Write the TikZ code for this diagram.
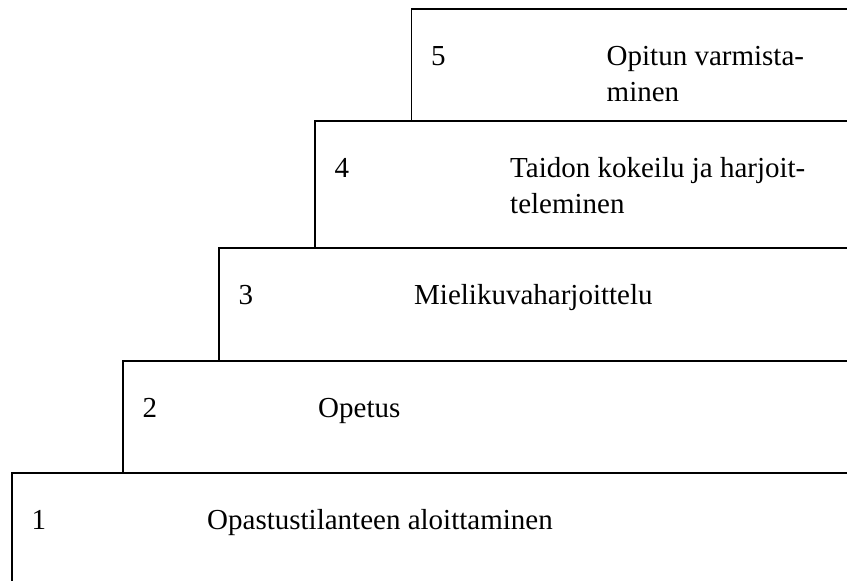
\documentclass[tikz,border=0pt]{standalone}
\usepackage{fontspec}
\setmainfont{Liberation Serif}
\begin{document}
\begin{tikzpicture}[x=1pt,y=-1pt,
  stepbox/.style={draw, line width=1.9pt, anchor=north west, inner sep=0pt,
    outer sep=0pt, minimum width=#1},
  num/.style={anchor=base west, inner sep=0pt},
  label/.style={anchor=base west, inner sep=0pt, align=left},
  every node/.append style={font=\fontsize{29}{36.5}\selectfont}]
\useasboundingbox (0,0) rectangle (847,581);
\clip (0,0) rectangle (847,581);
% the steps, lowest first; each reaches past the right and bottom edges
\node[stepbox=900pt, minimum height=200pt]   (b1) at (12,472.7)  {};
\node[stepbox=800pt, minimum height=112pt]   (b2) at (123,360.7) {};
\node[stepbox=700pt, minimum height=112.4pt] (b3) at (219,248.3) {};
\node[stepbox=600pt, minimum height=127.6pt] (b4) at (315,120.7) {};
\node[stepbox=500pt, minimum height=111.7pt] (b5) at (411.5,9)   {};
% step numbers
\node[num] (n1) at ([shift={(19.5,56.3)}]b1.north west) {1};
\node[num] (n2) at ([shift={(19.5,56.3)}]b2.north west) {2};
\node[num] (n3) at ([shift={(19.5,56.3)}]b3.north west) {3};
\node[num] (n4) at ([shift={(19.5,56.3)}]b4.north west) {4};
\node[num] (n5) at ([shift={(19.5,56.3)}]b5.north west) {5};
% step names (two-line names sit on the baseline of their last line)
\node[label] (t1) at ([shift={(195,56.3)}]b1.north west) {Opastustilanteen aloittaminen};
\node[label] (t2) at ([shift={(195,56.3)}]b2.north west) {Opetus};
\node[label] (t3) at ([shift={(195,56.3)}]b3.north west) {Mielikuvaharjoittelu};
\node[label] (t4) at ([shift={(195,92.8)}]b4.north west) {Taidon kokeilu ja harjoit-\\teleminen};
\node[label] (t5) at ([shift={(195,92.8)}]b5.north west) {Opitun varmista-\\minen};
\end{tikzpicture}
\end{document}
